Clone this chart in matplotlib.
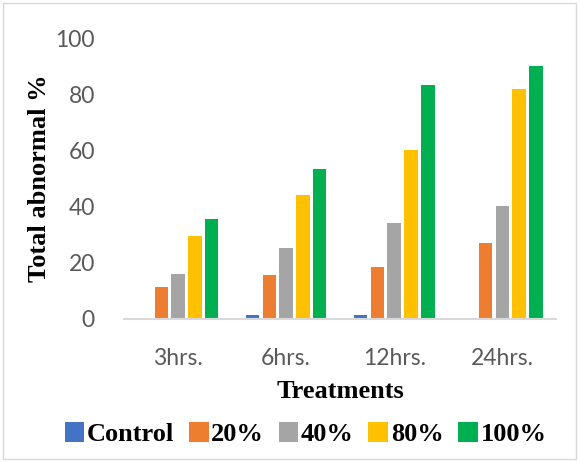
import matplotlib.pyplot as plt
import numpy as np
from matplotlib.patches import Rectangle

# data
tiempos = ["3hrs.", "6hrs.", "12hrs.", "24hrs."]
series = ["Control", "20%", "40%", "80%", "100%"]
control = [0.4, 1.5, 1.5, 0.4]
p20 = [11.2, 15.7, 18.5, 27.0]
p40 = [16.0, 25.2, 34.3, 40.3]
p80 = [29.6, 44.3, 60.2, 82.1]
p100 = [35.6, 53.5, 83.5, 90.2]
colores = ["#4472C4", "#ED7D31", "#A5A5A5", "#FFC000", "#00B050"]

valores = [control, p20, p40, p80, p100]

fig = plt.figure(figsize=(5.82, 4.62), dpi=100)
ax = fig.add_axes([0.213, 0.31, 0.743, 0.607])

x = np.arange(len(tiempos))
ancho = 0.125
paso = 0.155
for i, (nombre, vals) in enumerate(zip(series, valores)):
    ax.bar(x + (i - 2) * paso, vals, ancho, color=colores[i], label=nombre)

ax.set_xlim(-0.5, 3.5)
ax.set_ylim(0, 100)
ax.set_yticks(range(0, 101, 20))
ax.set_xticks(x)
ax.set_xticklabels(tiempos)
for s in ["top", "right", "left"]:
    ax.spines[s].set_visible(False)
ax.spines["bottom"].set_color("#D9D9D9")
ax.spines["bottom"].set_linewidth(1.5)
ax.tick_params(length=0, labelsize=16.5, colors="#595959")
ax.tick_params(axis="x", pad=21)
ax.tick_params(axis="y", pad=21)
for t in ax.get_xticklabels() + ax.get_yticklabels():
    t.set_family("Lato")

ax.set_ylabel("Total abnormal %", family="Liberation Serif", fontweight="bold",
              fontsize=19, labelpad=3)
ax.set_xlabel("Treatments", family="Liberation Serif", fontweight="bold",
              fontsize=19, labelpad=8)

leg = fig.legend(loc="lower center", bbox_to_anchor=(0.525, 0.0), ncol=5,
                 frameon=False, prop={"family": "Liberation Serif", "weight": "bold", "size": 19},
                 handlelength=0.75, handleheight=0.75, handletextpad=0.1, columnspacing=0.55,
                 borderaxespad=0.2)

fig.patches.append(Rectangle((0.006, 0.006), 0.983, 0.988, transform=fig.transFigure,
                             fill=False, edgecolor="#D9D9D9", linewidth=1))

fig.savefig("out.png")
